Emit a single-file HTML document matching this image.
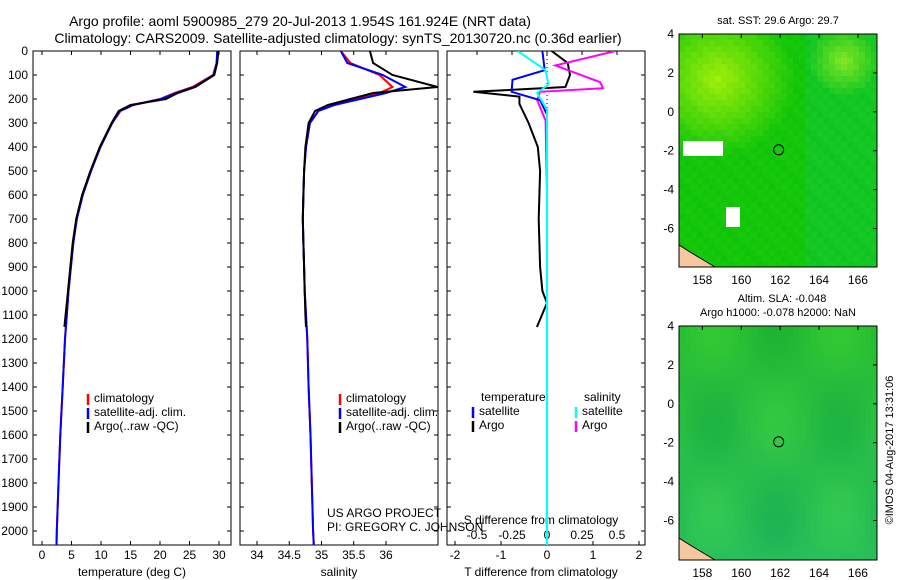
<!DOCTYPE html>
<html><head><meta charset="utf-8">
<style>
body{margin:0;background:#fff;}
svg{display:block;font-family:"Liberation Sans",sans-serif;}
</style></head>
<body>
<svg id="fig" width="900" height="580" viewBox="0 0 900 580">
<defs>
<clipPath id="c1"><rect x="33" y="51" width="198" height="494"/></clipPath>
<clipPath id="c2"><rect x="240" y="51" width="198" height="494"/></clipPath>
<clipPath id="c3"><rect x="447" y="51" width="198" height="494"/></clipPath>
</defs>
<text x="300" y="26" font-size="14" text-anchor="middle">Argo profile: aoml 5900985_279 20-Jul-2013 1.954S 161.924E (NRT data)</text>
<text x="338" y="43" font-size="14" text-anchor="middle">Climatology: CARS2009. Satellite-adjusted climatology: synTS_20130720.nc (0.36d earlier)</text>
<g id="g"></g>
</svg>
<script>
const NS="http://www.w3.org/2000/svg";
const G=document.getElementById('g');
// ---- data ----
const tDepth=[0,50,100,150,175,200,225,250,300,400,500,600,700,800,900,1000,1100,1150];
const tArgo=[29.9,29.7,29.2,26,23,21,15,13,11.8,9.8,8.2,6.8,5.8,5.2,4.8,4.4,4.0,3.8];
const cDepth=[0,50,100,150,175,200,225,250,300,400,500,600,700,800,900,1000,1100,1200,1400,1600,1800,2000,2060];
const tClim=[29.8,29.6,29.0,25.5,22.5,20,15.5,13.3,11.9,9.9,8.3,6.9,5.9,5.3,4.9,4.5,4.2,3.9,3.5,3.1,2.8,2.5,2.45];
const tSat=[29.7,29.6,29.1,25.8,22.8,20.2,15.4,13.2,11.9,9.9,8.3,6.9,5.9,5.3,4.9,4.5,4.2,3.9,3.5,3.1,2.8,2.5,2.45];
const sArgo=[35.75,35.8,36.1,36.8,35.8,35.45,35.1,34.9,34.8,34.75,34.73,34.72,34.71,34.72,34.73,34.74,34.75,34.76];
const sClim=[35.3,35.45,35.9,36.1,35.9,35.5,35.2,34.95,34.82,34.76,34.73,34.72,34.71,34.72,34.73,34.74,34.76,34.78,34.8,34.83,34.85,34.87,34.88];
const sSat=[35.3,35.4,35.95,36.3,36.0,35.6,35.2,34.95,34.82,34.76,34.73,34.72,34.71,34.72,34.73,34.74,34.76,34.78,34.8,34.83,34.85,34.87,34.88];
const dDepthA=[0,50,100,150,170,190,220,260,300,400,500,700,900,1000,1050,1150];
const dTArgo=[0.1,0.45,0.5,0.4,-1.6,-0.6,-0.6,-0.5,-0.4,-0.2,-0.15,-0.18,-0.15,-0.1,0,-0.22];
const dDepthS=[0,80,120,170,205,265,600,1000,1500,2060];
const dTSat=[-0.1,-0.05,-0.75,-0.77,-0.15,0,0,0,0,0];
const dDepthM=[0,60,130,155,170,205,290,600,1000,2060];
const dSArgo=[0.49,0.06,0.38,0.4,-0.05,-0.07,-0.01,0,0,0];
const dDepthC=[0,80,140,175,245,600,1000,2060];
const dSSat=[-0.21,-0.01,0.01,-0.07,0.0,0,0,0];
const depthTicks=[0,100,200,300,400,500,600,700,800,900,1000,1100,1200,1300,1400,1500,1600,1700,1800,1900,2000];
const tTicks=[0,5,10,15,20,25,30];
const sTicks=[34,34.5,35,35.5,36];
const sLabels=['34','34.5','35','35.5','36'];
const dTTicks=[-2,-1,0,1,2];
const dSTicks=[-0.5,-0.25,0,0.25,0.5];
const dSLabels=['-0.5','-0.25','0','0.25','0.5'];
const latTicks=[4,2,0,-2,-4,-6];
const lonTicks=[158,160,162,164,166];
// ---- scales ----
const Y=d=>51+d*0.24;
const XT=v=>42+v*5.9;
const XS=v=>257+(v-34)*64.5;
const XD=v=>547+v*46;
const XDS=v=>547+v*140;
function el(tag,attrs,parent){const e=document.createElementNS(NS,tag);for(const k in attrs)e.setAttribute(k,attrs[k]);(parent||G).appendChild(e);return e;}
function txt(x,y,s,anchor,size){const t=el('text',{x:x,y:y,'font-size':size||12,'text-anchor':anchor||'start'});t.textContent=s;return t;}
function line(xs,ds,fx,color,clip,name,w){
  const p=xs.map((v,i)=>fx(v).toFixed(1)+','+Y(ds[i]).toFixed(1)).join(' ');
  const e=el('polyline',{points:p,fill:'none',stroke:color,'stroke-width':w||2,'clip-path':'url(#'+clip+')'});
  
  
}
function frame(x,name){
  const r=el('rect',{x:x,y:51,width:198,height:494,fill:'none',stroke:'#000','stroke-width':1});
  
  
}
[[33,'temperature-panel'],[240,'salinity-panel'],[447,'difference-panel']].forEach(a=>frame(a[0],a[1]));
depthTicks.forEach(d=>{
  const t=txt(28,Y(d)+4,String(d),'end',12);
  
  
  [33,240,447].forEach(x=>{el('line',{x1:x,x2:x+4,y1:Y(d),y2:Y(d),stroke:'#000'});el('line',{x1:x+198,x2:x+194,y1:Y(d),y2:Y(d),stroke:'#000'});});
});
tTicks.forEach(v=>{const t=txt(XT(v),559,String(v),'middle',12);el('line',{x1:XT(v),x2:XT(v),y1:545,y2:541,stroke:'#000'});el('line',{x1:XT(v),x2:XT(v),y1:51,y2:55,stroke:'#000'});});
sTicks.forEach((v,i)=>{const t=txt(XS(v),559,sLabels[i],'middle',12);el('line',{x1:XS(v),x2:XS(v),y1:545,y2:541,stroke:'#000'});el('line',{x1:XS(v),x2:XS(v),y1:51,y2:55,stroke:'#000'});});
dTTicks.forEach(v=>{const t=txt(XD(v),559,String(v),'middle',12);el('line',{x1:XD(v),x2:XD(v),y1:545,y2:541,stroke:'#000'});});
dSTicks.forEach((v,i)=>{const t=txt(XDS(v),539,dSLabels[i],'middle',12);el('line',{x1:XDS(v),x2:XDS(v),y1:51,y2:55,stroke:'#000'});});
let a;
a=txt(132,576,'temperature (deg C)','middle',12);
a=txt(339,576,'salinity','middle',12);
a=txt(541,576,'T difference from climatology','middle',12);
a=txt(541,524,'S difference from climatology','middle',12);
el('line',{x1:547,x2:547,y1:51,y2:545,stroke:'#000','stroke-dasharray':'1,3'});
line(tClim,cDepth,XT,'#f00','c1','temp-climatology-line');
line(tSat,cDepth,XT,'#00f','c1','temp-satellite-line');
line(tArgo,tDepth,XT,'#000','c1','temp-argo-line');
line(sClim,cDepth,XS,'#f00','c2','sal-climatology-line');
line(sSat,cDepth,XS,'#00f','c2','sal-satellite-line');
line(sArgo,tDepth,XS,'#000','c2','sal-argo-line');
line(dTArgo,dDepthA,XD,'#000','c3','tdiff-argo-line');
line(dSArgo,dDepthM,XDS,'#f0f','c3','sdiff-argo-line');
line(dTSat,dDepthS,XD,'#00f','c3','tdiff-satellite-line');
line(dSSat,dDepthC,XDS,'#0ff','c3','sdiff-satellite-line');
function leg(x,y,color,label,name){
  el('line',{x1:x,x2:x,y1:y-8,y2:y+3,stroke:color,'stroke-width':2.5});
  const t=txt(x+6,y,label,'start',12);
  
  
}
leg(88,402,'#f00','climatology','legend-climatology');
leg(88,416,'#00f','satellite-adj. clim.','legend-satellite');
leg(88,430,'#000','Argo(..raw -QC)','legend-argo');
leg(340,402,'#f00','climatology','legend-climatology-2');
leg(340,416,'#00f','satellite-adj. clim.','legend-satellite-2');
leg(340,430,'#000','Argo(..raw -QC)','legend-argo-2');
a=txt(481,401,'temperature','start',12);
a=txt(584,401,'salinity','start',12);
leg(473,415,'#00f','satellite','legend-t-satellite');
leg(473,429,'#000','Argo','legend-t-argo');
leg(576,415,'#0ff','satellite','legend-s-satellite');
leg(576,429,'#f0f','Argo','legend-s-argo');
a=txt(327,517,'US ARGO PROJECT','start',12);
a=txt(327,531,'PI: GREGORY C. JOHNSON','start',12);
function map(top,h,name,palette){
  const g=el('g',{});
  
  
  const cs=6;
  for(let j=0;j*cs<h;j++)for(let i=0;i*cs<198;i++){
    el('rect',{x:679+i*cs,y:top+j*cs,width:cs,height:Math.min(cs,h-j*cs),fill:palette(i,j)},g);
  }
  el('rect',{x:679,y:top,width:198,height:h,fill:'none',stroke:'#000'},g);
  const lat=v=>top+(4-v)*19.45, lon=v=>679+(v-156.8)*19.45;
  latTicks.forEach(v=>{const t=txt(674,lat(v)+4,String(v),'end',12);el('line',{x1:877,x2:873,y1:lat(v),y2:lat(v),stroke:'#000'});});
  lonTicks.forEach(v=>{const t=txt(lon(v),top+h+17,String(v),'middle',12);el('line',{x1:lon(v),x2:lon(v),y1:top,y2:top+4,stroke:'#000'});});
  const c=el('circle',{cx:lon(161.924),cy:lat(-1.954),r:5,fill:'none',stroke:'#000'});
  
  
  el('polygon',{points:`679,${top+h-22} 690,${top+h-15} 705,${top+h-6} 715,${top+h} 679,${top+h}`,fill:'#f5c8a0',stroke:'#000'});
}
map(34,233,'sst-map',(i,j)=>{
  const yl=Math.max(0,1-Math.hypot(i-6,j-7)/13)+Math.max(0,1-Math.hypot(i-27,j-4)/6)*0.8;
  const v=((i*7+j*13)%5)/40;
  const g=Math.round(195+yl*40+v*60), r=Math.round(15+yl*140+v*90);
  return `rgb(${r},${g},${Math.round(10+(i>20?25:0))})`;
});
el('rect',{x:683,y:141,width:40,height:15,fill:'#fff'});
el('rect',{x:726,y:207,width:14,height:20,fill:'#fff'});
map(326,234,'sla-map',(i,j)=>{
  const v=Math.sin(i*0.3)*Math.cos(j*0.2);
  return `rgb(${Math.round(40+v*10)},${Math.round(190+v*10)},${Math.round(50+(j/39)*40)})`;
});
a=txt(778,24,'sat. SST: 29.6 Argo: 29.7','middle',11);
a=txt(782,302,'Altim. SLA: -0.048','middle',11);
a=txt(778,316,'Argo h1000: -0.078 h2000: NaN','middle',11);
a=txt(0,0,'©IMOS 04-Aug-2017 13:31:06','middle',11);a.setAttribute('transform','translate(893,450) rotate(-90)');
</script>
</body></html>
